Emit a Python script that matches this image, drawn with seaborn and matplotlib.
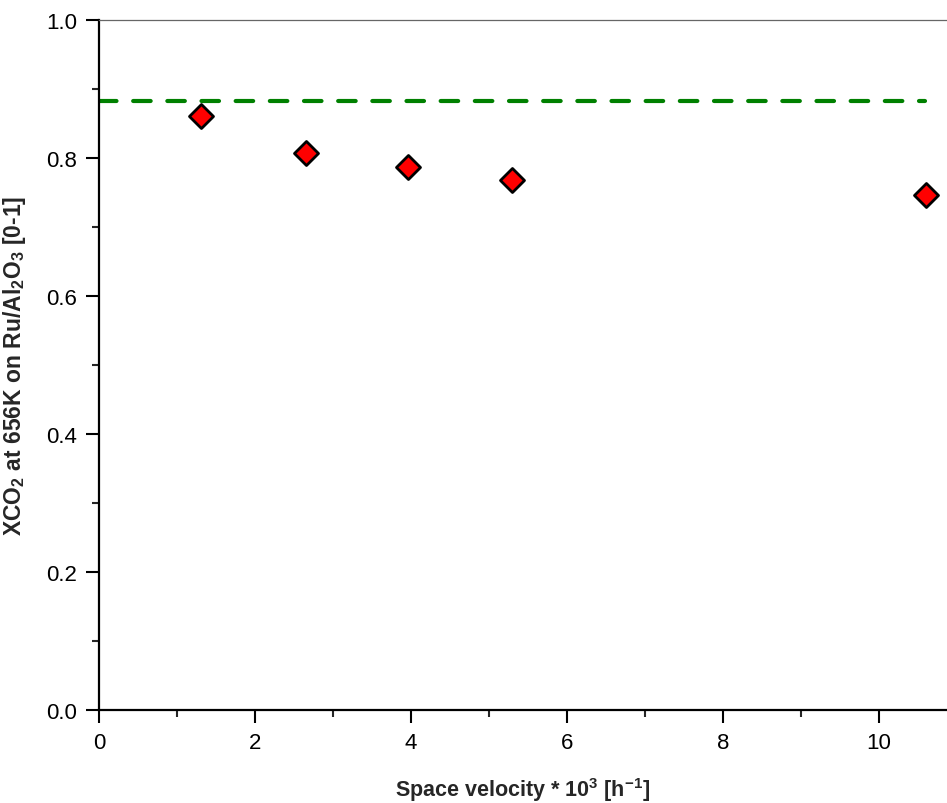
import matplotlib
matplotlib.use('Agg')
import matplotlib.pyplot as plt
import seaborn as sns
import pandas as pd
from matplotlib.ticker import MultipleLocator

# data
space_velocity = [1.31, 2.65, 3.96, 5.29, 10.60]
conversion = [0.861, 0.807, 0.787, 0.768, 0.746]
equilibrium_x = [0.0, 10.59]
equilibrium_y = [0.8826, 0.8826]

df = pd.DataFrame({'sv': space_velocity, 'x': conversion})
eq = pd.DataFrame({'sv': equilibrium_x, 'x': equilibrium_y})

sns.set_theme(style='white')
plt.rcParams['font.family'] = ['Liberation Sans', 'DejaVu Sans']
plt.rcParams['mathtext.fontset'] = 'custom'
plt.rcParams['mathtext.rm'] = 'Liberation Sans'
plt.rcParams['mathtext.bf'] = 'Liberation Sans:bold'

fig = plt.figure(figsize=(9.47, 8.04), dpi=100)
ax = fig.add_axes([0.1045, 0.1157, 0.8955, 0.8582])

sns.lineplot(data=eq, x='sv', y='x', ax=ax, color='#008000', linewidth=3,
             dashes=False, legend=False)
ax.lines[0].set_linestyle((0, (4.2, 4.0)))
ax.lines[0].set_dash_capstyle('round')

sns.scatterplot(data=df, x='sv', y='x', ax=ax, marker='D', s=150,
                color='#ff0000', edgecolor='black', linewidth=2, zorder=5,
                legend=False)

ax.set_xlim(0, 10.87)
ax.set_ylim(0, 1.0)
ax.xaxis.set_major_locator(MultipleLocator(2))
ax.xaxis.set_minor_locator(MultipleLocator(1))
ax.yaxis.set_major_locator(MultipleLocator(0.2))
ax.yaxis.set_minor_locator(MultipleLocator(0.1))
ax.yaxis.set_major_formatter(matplotlib.ticker.FormatStrFormatter('%.1f'))

for side in ['left', 'bottom']:
    ax.spines[side].set_linewidth(1.6)
    ax.spines[side].set_color('black')
ax.spines['right'].set_visible(False)
ax.spines['top'].set_linewidth(0.9)
ax.spines['top'].set_color('#666666')

ax.tick_params(which='major', direction='out', length=9.5, width=1.5,
               labelsize=16, colors='black', pad=6, left=True, bottom=True)
ax.tick_params(which='minor', direction='out', length=5, width=1.5,
               left=True, bottom=True)

ax.set_xlabel(r'Space velocity * 10$^{\mathbf{3}}$ [h$^{\mathbf{-1}}$]',
              fontsize=15.5, fontweight='bold', labelpad=16)
ax.set_ylabel(r'XCO$_{\mathbf{2}}$ at 656K on Ru/Al$_{\mathbf{2}}$O$_{\mathbf{3}}$ [0-1]',
              fontsize=16.5, fontweight='bold', labelpad=13)

fig.savefig('out.png', dpi=100)
